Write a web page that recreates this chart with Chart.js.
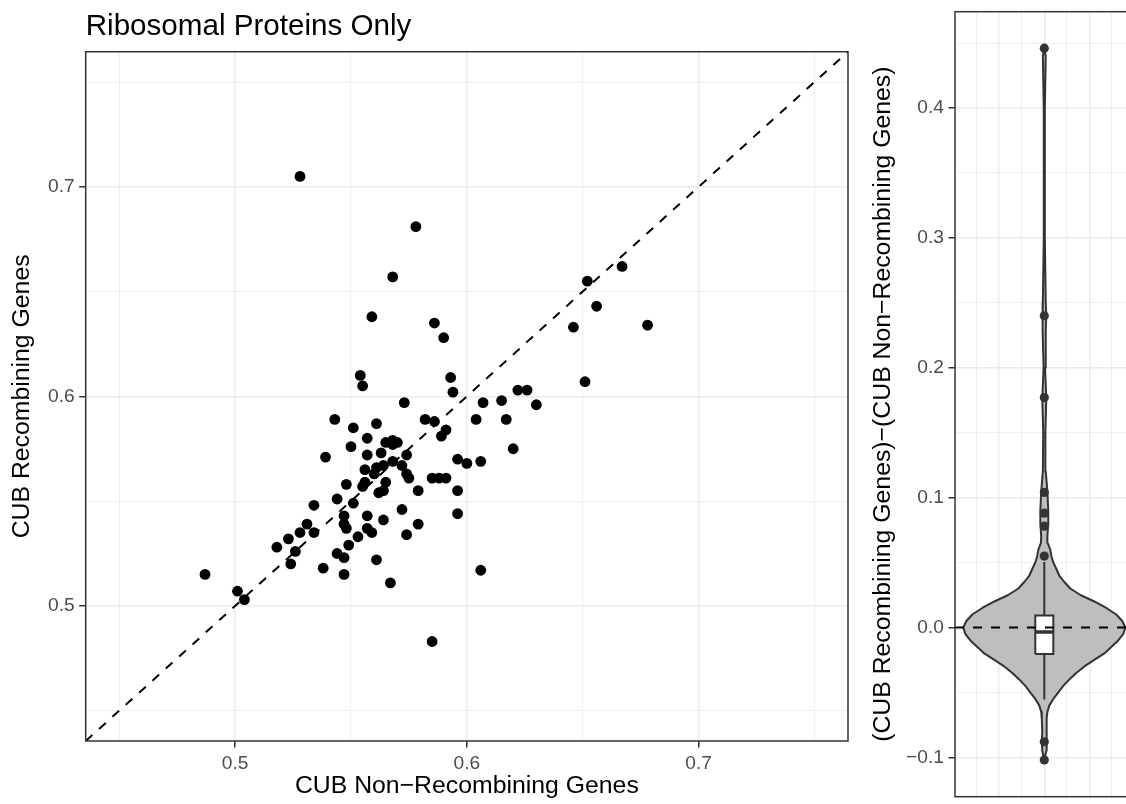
<!DOCTYPE html>
<html><head><meta charset="utf-8">
<script src="https://cdn.jsdelivr.net/npm/chart.js@4.4.1/dist/chart.umd.min.js"></script>
<style>
html,body{margin:0;padding:0;background:#fff;overflow:hidden;width:1126px;height:804px;}
#wrap{position:relative;width:1126px;height:804px;overflow:hidden;background:#fff;}
#c1{position:absolute;left:0;top:0;}
#c2{position:absolute;left:860px;top:0;}
</style></head><body>
<div id="wrap"><canvas id="c1" width="860" height="804"></canvas><canvas id="c2" width="280" height="804"></canvas></div>
<script>
// ---------- data ----------
const cubNonRecombining = [0.528,0.578,0.568,0.559,0.586,0.590,0.554,0.555,0.593,0.594,
  0.573,0.543,0.551,0.561,0.582,0.586,0.591,0.589,0.557,0.565,
  0.568,0.570,0.568,0.539,0.550,0.557,0.563,0.574,0.568,0.572,
  0.556,0.561,0.564,0.560,0.574,0.575,0.585,0.588,0.591,0.596,
  0.596,0.596,0.556,0.555,0.565,0.562,0.564,0.579,0.548,0.544,
  0.551,0.534,0.547,0.547,0.548,0.557,0.564,0.572,0.579,0.574,
  0.557,0.559,0.553,0.531,0.528,0.534,0.523,0.518,0.526,0.524,
  0.544,0.547,0.549,0.538,0.547,0.561,0.567,0.487,0.501,0.504,
  0.585,0.652,0.667,0.656,0.646,0.678,0.651,0.607,0.615,0.622,
  0.626,0.630,0.604,0.617,0.620,0.600,0.606,0.606];
const cubRecombining = [0.705,0.681,0.657,0.638,0.635,0.628,0.610,0.605,0.609,0.602,
  0.597,0.589,0.585,0.587,0.589,0.588,0.584,0.581,0.580,0.578,
  0.579,0.578,0.577,0.571,0.576,0.572,0.573,0.572,0.569,0.567,
  0.565,0.566,0.567,0.563,0.563,0.561,0.561,0.561,0.561,0.570,
  0.555,0.544,0.559,0.557,0.559,0.554,0.555,0.555,0.558,0.551,
  0.549,0.548,0.543,0.539,0.537,0.543,0.541,0.546,0.539,0.534,
  0.537,0.535,0.533,0.539,0.535,0.535,0.532,0.528,0.526,0.520,
  0.525,0.523,0.529,0.518,0.515,0.522,0.511,0.515,0.507,0.503,
  0.483,0.655,0.662,0.643,0.633,0.634,0.607,0.597,0.598,0.603,
  0.603,0.596,0.589,0.589,0.575,0.568,0.569,0.517];

// scatter axis limits and ticks
const scatterLimits = [0.4355, 0.7645];
const scatterMajorTicks = [0.5, 0.6, 0.7];
const scatterMinorTicks = [0.45, 0.55, 0.65, 0.75];

// violin panel: difference (recombining - non-recombining)
const violinLimitsY = [-0.1303, 0.4741];
const violinLimitsX = [0.505, 1.495];
const violinCenter = [1];
const violinMajorTicksY = [-0.1, 0, 0.1, 0.2, 0.3, 0.4];
const violinMinorTicksY = [-0.05, 0.05, 0.15, 0.25, 0.35, 0.45];
const violinMajorTicksX = [0.75, 1.0, 1.25];
const violinMinorTicksX = [0.625, 0.875, 1.125, 1.375];
// density outline: y levels and half-widths (x units)
const violinY = [-0.102,-0.095,-0.088,-0.08,-0.07,-0.065,-0.06,-0.055,-0.05,-0.045,-0.04,-0.035,-0.03,-0.025,-0.02,-0.015,-0.01,-0.005,0.0,
  0.005,0.01,0.015,0.02,0.025,0.03,0.035,0.04,0.045,0.05,0.055,0.06,0.065,0.07,0.08,0.09,0.105,0.12,0.15,0.177,0.20,0.23,0.24,0.25,0.30,0.40,0.44,0.446];
const violinHalfWidth = [0,0.011,0.014,0.011,0.014,0.017,0.028,0.050,0.078,0.105,0.139,0.177,0.222,0.277,0.333,0.371,0.410,0.438,0.449,
  0.432,0.399,0.344,0.277,0.200,0.144,0.111,0.083,0.067,0.050,0.039,0.033,0.019,0.017,0.022,0.022,0.017,0.008,0.006,0.011,0.004,0.008,0.011,0.008,0.003,0.003,0.008,0];
const boxQuartiles = [-0.0205, -0.0035, 0.0092]; // q1, median, q3
const boxWhiskers = [-0.0554, 0.0505];
const boxHalfWidth = [0.05];
const boxOutliers = [0.446, 0.240, 0.177, 0.104, 0.088, 0.078, 0.055, -0.088, -0.102];
const zeroLine = [0];

// ---------- styling ----------
const FONT = "'Liberation Sans', Arial, Helvetica, sans-serif";
const GRID = '#EBEBEB';
const DARK = '#333333';
const fmt = v => v.toFixed(1).replace('-', '\u2212');
function tickSetter(major, minor) {
  return scale => {
    const t = major.map(v => ({value: v, mj: true})).concat(minor.map(v => ({value: v, mj: false})));
    t.sort((a, b) => a.value - b.value);
    scale.ticks = t;
  };
}
const isMajor = ctx => !!(ctx.tick && ctx.tick.mj);
function gridOpts(tickLen) {
  return {
    color: GRID,
    lineWidth: ctx => isMajor(ctx) ? 1.5 : 0.8,
    drawTicks: true,
    tickLength: tickLen,
    tickWidth: 1.5,
    tickColor: ctx => isMajor(ctx) ? DARK : 'rgba(0,0,0,0)'
  };
}
function tickOpts(pad) {
  return {
    color: '#4D4D4D', font: {family: FONT, size: 19.2}, padding: pad,
    autoSkip: false, maxRotation: 0, minRotation: 0,
    callback: function(v, i, ticks) { return ticks[i] && ticks[i].mj ? fmt(v) : ''; }
  };
}
function fixSize(prop, val) {
  return s => { s[prop] = val; s.paddingTop = 0; s.paddingBottom = 0; s.paddingLeft = 0; s.paddingRight = 0; };
}
const panelBorder = {
  id: 'panelBorder',
  afterDatasetsDraw(chart) {
    const {ctx, chartArea: a} = chart;
    ctx.save();
    ctx.strokeStyle = DARK; ctx.lineWidth = 1.5;
    ctx.strokeRect(a.left, a.top, a.right - a.left, a.bottom - a.top);
    ctx.restore();
  }
};

// ---------- chart 1: scatter ----------
const scatterPoints = cubNonRecombining.map((x, i) => ({x: x, y: cubRecombining[i]}));
new Chart(document.getElementById('c1'), {
  type: 'scatter',
  data: {datasets: [
    {type: 'line', showLine: true, data: [{x: scatterLimits[0], y: scatterLimits[0]}, {x: scatterLimits[1], y: scatterLimits[1]}],
     borderColor: '#000', borderWidth: 2, borderDash: [9, 9], pointRadius: 0, fill: false},
    {data: scatterPoints, pointRadius: 5.4, pointHoverRadius: 5.4, backgroundColor: '#000', borderWidth: 0}
  ]},
  options: {
    responsive: false, animation: false, devicePixelRatio: 1,
    layout: {padding: {left: 0, right: 12, top: 0, bottom: 0}},
    plugins: {
      legend: {display: false}, tooltip: {enabled: false},
      title: {display: true, text: 'Ribosomal Proteins Only', align: 'start', fullSize: false, color: '#000',
              font: {family: FONT, size: 29.6, weight: 'normal'}, padding: {top: 9.5, bottom: 6.7}}
    },
    scales: {
      x: {type: 'linear', min: scatterLimits[0], max: scatterLimits[1],
          afterBuildTicks: tickSetter(scatterMajorTicks, scatterMinorTicks),
          afterFit: fixSize('height', 63),
          grid: gridOpts(6.5), border: {display: false}, ticks: tickOpts(4.5),
          title: {display: true, text: 'CUB Non\u2212Recombining Genes', color: '#000', font: {family: FONT, size: 24.8}, padding: {top: 0, bottom: 2.5}}},
      y: {type: 'linear', min: scatterLimits[0], max: scatterLimits[1],
          afterBuildTicks: tickSetter(scatterMajorTicks, scatterMinorTicks),
          afterFit: fixSize('width', 85.7),
          grid: gridOpts(6.5), border: {display: false}, ticks: tickOpts(4.5),
          title: {display: true, text: 'CUB Recombining Genes', color: '#000', font: {family: FONT, size: 24.8}, padding: {top: 7.2, bottom: 0}}}
    }
  },
  plugins: [panelBorder]
});

// ---------- chart 2: violin + box ----------
const cx = violinCenter[0];
const violinRight = violinY.map((y, i) => ({x: cx + violinHalfWidth[i], y: y}));
const violinLeft = violinY.map((y, i) => ({x: cx - violinHalfWidth[i], y: y})).reverse();
const violinPoly = violinRight.concat(violinLeft);
const bw = boxHalfWidth[0];
const boxPoly = [
  {x: cx - bw, y: boxQuartiles[0]}, {x: cx + bw, y: boxQuartiles[0]},
  {x: cx + bw, y: boxQuartiles[2]}, {x: cx - bw, y: boxQuartiles[2]},
  {x: cx - bw, y: boxQuartiles[0]}
];
new Chart(document.getElementById('c2'), {
  type: 'scatter',
  data: {datasets: [
    {type: 'line', showLine: true, data: [{x: violinLimitsX[0], y: zeroLine[0]}, {x: violinLimitsX[1], y: zeroLine[0]}],
     borderColor: '#000', borderWidth: 2, borderDash: [9, 9], pointRadius: 0, fill: false},
    {data: boxOutliers.map(y => ({x: cx, y: y})), pointRadius: 4.6, pointHoverRadius: 4.6, backgroundColor: DARK, borderWidth: 0},
    {type: 'line', showLine: true, data: [{x: cx - bw, y: boxQuartiles[1]}, {x: cx + bw, y: boxQuartiles[1]}],
     borderColor: DARK, borderWidth: 3.5, pointRadius: 0, fill: false},
    {type: 'line', showLine: true, indexAxis: 'y', data: boxPoly, borderColor: DARK, borderWidth: 2, pointRadius: 0,
     fill: 'shape', backgroundColor: '#FFFFFF', borderJoinStyle: 'miter'},
    {type: 'line', showLine: true, data: [{x: cx, y: boxWhiskers[0]}, {x: cx, y: boxQuartiles[0]}],
     borderColor: DARK, borderWidth: 2, pointRadius: 0, fill: false},
    {type: 'line', showLine: true, data: [{x: cx, y: boxQuartiles[2]}, {x: cx, y: boxWhiskers[1]}],
     borderColor: DARK, borderWidth: 2, pointRadius: 0, fill: false},
    {type: 'line', showLine: true, indexAxis: 'y', data: violinPoly, borderColor: DARK, borderWidth: 2, pointRadius: 0,
     fill: 'shape', backgroundColor: '#BEBEBE', borderJoinStyle: 'round'}
  ]},
  options: {
    responsive: false, animation: false, devicePixelRatio: 1,
    layout: {padding: {left: 0, right: 6.4, top: 11.7, bottom: 7.3}},
    plugins: {legend: {display: false}, tooltip: {enabled: false}, title: {display: false}},
    scales: {
      x: {type: 'linear', min: violinLimitsX[0], max: violinLimitsX[1],
          afterBuildTicks: tickSetter(violinMajorTicksX, violinMinorTicksX),
          afterFit: fixSize('height', 0),
          grid: {color: GRID, lineWidth: ctx => isMajor(ctx) ? 1.5 : 0.8, drawTicks: false},
          border: {display: false}, ticks: {display: false}, title: {display: false}},
      y: {type: 'linear', min: violinLimitsY[0], max: violinLimitsY[1],
          afterBuildTicks: tickSetter(violinMajorTicksY, violinMinorTicksY),
          afterFit: fixSize('width', 95),
          grid: gridOpts(6.5), border: {display: false}, ticks: tickOpts(4.5),
          title: {display: true, text: '(CUB Recombining Genes)\u2212(CUB Non\u2212Recombining Genes)', color: '#000',
                  font: {family: FONT, size: 24.8}, padding: {top: 8.2, bottom: 0}}}
    }
  },
  plugins: [panelBorder]
});
</script>
</body></html>
